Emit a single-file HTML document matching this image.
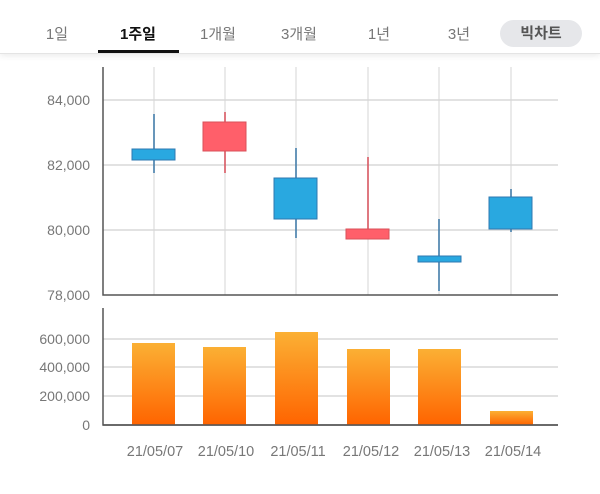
<!DOCTYPE html>
<html><head><meta charset="utf-8"><style>
body{margin:0;width:600px;height:494px;background:#fff;overflow:hidden;font-family:"Liberation Sans","Noto Sans CJK KR",sans-serif;}
.hdr{position:absolute;left:0;top:0;width:600px;height:53px;border-bottom:1px solid #e4e4e4;box-shadow:0 2px 6px rgba(0,0,0,0.08);}
.t{position:absolute;top:23px;font-size:15px;color:#777;transform:translateX(-50%);white-space:nowrap;}
.b{color:#111;font-weight:bold;}
.ul{position:absolute;left:98px;top:50px;width:81px;height:3px;background:#111;}
.pill{position:absolute;left:500px;top:20px;width:82px;height:27px;border-radius:14px;background:#e6e7ea;color:#555;font-weight:bold;font-size:15px;text-align:center;line-height:27px;}
</style></head><body>
<div class="hdr">
<div class="t" style="left:57px">1일</div>
<div class="t b" style="left:138px">1주일</div>
<div class="t" style="left:218px">1개월</div>
<div class="t" style="left:299px">3개월</div>
<div class="t" style="left:379px">1년</div>
<div class="t" style="left:459px">3년</div>
<div class="ul"></div>
<div class="pill">빅차트</div>
</div>
<svg width="600" height="494" style="position:absolute;left:0;top:0" font-family="Liberation Sans, sans-serif">
<defs><linearGradient id="g" x1="0" y1="0" x2="0" y2="1"><stop offset="0" stop-color="#fbb034"/><stop offset="1" stop-color="#ff6400"/></linearGradient></defs>
<g stroke="#e3e3e3" stroke-width="1.5">
<line x1="154" y1="67" x2="154" y2="295"/><line x1="225" y1="67" x2="225" y2="295"/><line x1="296" y1="67" x2="296" y2="295"/><line x1="368" y1="67" x2="368" y2="295"/><line x1="439" y1="67" x2="439" y2="295"/><line x1="511" y1="67" x2="511" y2="295"/>
</g>
<g stroke="#d8d8d8" stroke-width="1.5">
<line x1="103" y1="100" x2="558" y2="100"/><line x1="103" y1="165" x2="558" y2="165"/><line x1="103" y1="230" x2="558" y2="230"/>
<line x1="103" y1="339" x2="558" y2="339"/><line x1="103" y1="367" x2="558" y2="367"/><line x1="103" y1="396" x2="558" y2="396"/>
</g>
<g stroke="#555" stroke-width="1.5" fill="none">
<polyline points="103,67 103,295 558,295"/>
<polyline points="103,308 103,425 558,425"/>
</g>
<g font-size="14" fill="#777" text-anchor="end">
<text x="90" y="105">84,000</text><text x="90" y="170">82,000</text><text x="90" y="235">80,000</text><text x="90" y="300">78,000</text>
<text x="90" y="344">600,000</text><text x="90" y="372">400,000</text><text x="90" y="401">200,000</text><text x="90" y="430">0</text>
</g>
<g stroke-width="1.5">
<g stroke="#3a78a8"><line x1="154" y1="114" x2="154" y2="173"/><line x1="296" y1="148" x2="296" y2="238"/><line x1="439" y1="219" x2="439" y2="291"/><line x1="511" y1="189" x2="511" y2="232"/></g>
<g stroke="#d9505a"><line x1="225" y1="112" x2="225" y2="173"/><line x1="368" y1="157" x2="368" y2="239"/></g>
<g fill="#29a8e0" stroke="#2f78b0" stroke-width="1">
<rect x="132" y="149" width="43" height="11"/><rect x="274" y="178" width="43" height="41"/><rect x="418" y="256" width="43" height="6"/><rect x="489" y="197" width="43" height="32"/></g>
<g fill="#ff5f6a" stroke="#d9505a" stroke-width="1">
<rect x="203" y="122" width="43" height="29"/><rect x="346" y="229" width="43" height="10"/></g>
</g>
<g fill="url(#g)">
<rect x="132" y="343" width="43" height="82"/><rect x="203" y="347" width="43" height="78"/><rect x="275" y="332" width="43" height="93"/><rect x="347" y="349" width="43" height="76"/><rect x="418" y="349" width="43" height="76"/><rect x="490" y="411" width="43" height="14"/>
</g>
<line x1="103" y1="425" x2="558" y2="425" stroke="#555" stroke-width="1.5"/>
<g font-size="14.5" fill="#777" text-anchor="middle">
<text x="155" y="456">21/05/07</text><text x="226" y="456">21/05/10</text><text x="298" y="456">21/05/11</text><text x="371" y="456">21/05/12</text><text x="442" y="456">21/05/13</text><text x="513" y="456">21/05/14</text>
</g>
</svg>
</body></html>
